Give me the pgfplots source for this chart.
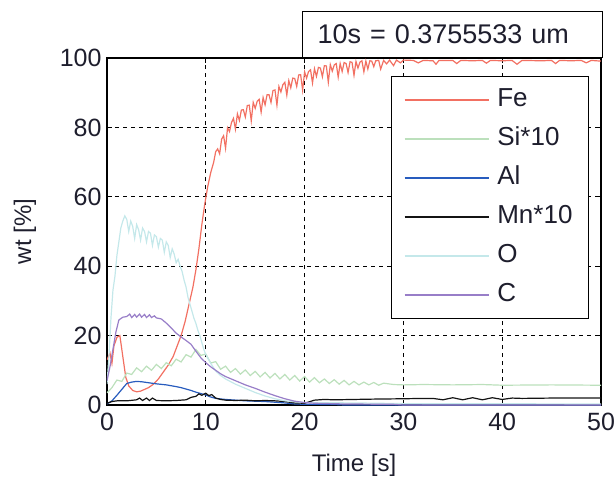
\documentclass[border=0pt]{standalone}
\usepackage{fontspec}
\setmainfont{Liberation Sans}
\usepackage{pgfplots}
\pgfplotsset{compat=1.18}
\definecolor{cFe}{RGB}{242,112,98}
\definecolor{cSi}{RGB}{188,224,188}
\definecolor{cAl}{RGB}{40,92,190}
\definecolor{cMn}{RGB}{20,20,20}
\definecolor{cO}{RGB}{196,232,234}
\definecolor{cC}{RGB}{152,126,200}
\definecolor{txt}{RGB}{30,30,45}
\begin{document}
\begin{tikzpicture}
\begin{axis}[
  scale only axis, width=494pt, height=347pt,
  xmin=0, xmax=50, ymin=0, ymax=100,
  xtick={0,10,...,50}, ytick={0,20,...,100},
  grid=major,
  major grid style={black, dash pattern=on 4pt off 4pt, line width=0.9pt},
  tick align=inside, major tick length=5pt,
  axis line style={line width=1.2pt, black},
  tick style={line width=1pt, black},
  /pgf/number format/assume math mode=true,
  ticklabel style={font=\fontsize{25}{30}\selectfont, text=txt},
  xticklabel style={yshift=-5pt},
  yticklabel style={xshift=-2pt},
  label style={font=\fontsize{24}{30}\selectfont, text=txt},
  xlabel={Time [s]}, ylabel={wt [\%]},
  xlabel style={at={(axis description cs:0.5,-0.173)}, anchor=center},
  ylabel style={at={(axis description cs:-0.166,0.5)}, anchor=center},
  legend style={at={(rel axis cs:0.9757,0.948)}, anchor=north east,
    draw=black, line width=1pt, fill=white,
    font=\fontsize{26}{30}\selectfont, text=txt,
    inner xsep=13pt, inner ysep=8pt, row sep=8pt, column sep=5pt,
    nodes={inner sep=3pt, text height=19pt, text depth=6pt}},
  legend cell align=left,
  legend image code/.code={\draw[#1] (0pt,0pt) -- (84pt,0pt);},
]
\addplot[cFe, line width=1.2pt] coordinates {
(0,13) (0.3,15) (0.5,12) (0.7,17) (1.0,19.5) (1.3,20) (1.6,14) (1.9,8) (2.2,5.5) (2.6,4.2) (3.0,3.8) (3.4,4) (3.8,4.5) (4.2,5) (4.7,6) (5.2,7.5) (5.7,9.5) (6.2,11.5) (6.7,14) (7.1,17) (7.5,20) (7.9,24) (8.3,29) (8.7,34) (9.0,39) (9.3,45) (9.6,52) (9.9,58) (10.2,63) (10.5,67) (10.8,70)
(11.0,73) (11.2,73.8) (11.4,72.4) (11.6,76.6) (11.8,77.6) (12.0,74) (12.2,79.9) (12.4,78.8) (12.6,81.4) (12.8,82.6) (13.0,79.5) (13.2,83.9) (13.4,82)
(13.6,85) (13.8,85.1) (14.0,83) (14.2,86.3) (14.4,86.4) (14.6,81.9) (14.8,87.2) (15.0,85.5) (15.2,87.5) (15.4,88.1) (15.6,84.4) (15.8,88.6) (16.0,86.5)
(16.2,89.4) (16.4,89.4) (16.6,87.2) (16.8,90.6) (17.0,90.8) (17.2,86.4) (17.4,91.8) (17.6,90.2) (17.8,92.3) (18.0,93) (18.2,89.3) (18.4,93.5) (18.6,91.4)
(18.8,94.2) (19.0,94.1) (19.2,91.8) (19.4,95.1) (19.6,95.2) (19.8,90.7) (20.0,96) (20.2,94.2) (20.4,96.1) (20.6,96.6) (20.8,92.8) (21.0,96.9) (21.2,94.7)
(21.4,97.3) (21.6,97.1) (21.8,94.6) (22.0,97.8) (22.2,97.7) (22.4,93) (22.6,98.1) (22.8,96.2) (23.0,98) (23.2,98.4) (23.4,94.5) (23.6,98.4) (23.8,96.1)
(24.0,98.7) (24.2,98.4) (24.4,95.8) (24.6,98.9) (24.8,98.75) (25.0,95) (25.2,99) (25.4,97.1) (25.6,98.8) (25.8,99.2) (26.0,96) (26.2,99.1) (26.4,96.8)
(26.6,99.2) (26.8,99.1) (27.0,97.5) (27.2,99.2) (27.5,99.3) (27.7,96.8) (28,99.3) (28.3,98.3) (28.6,99.4) (29,97.8) (29.3,99.4) (29.7,98.6) (30,99.4)
(31,99.3) (31.5,98.6) (32,99.3) (33,99.2) (33.3,98.2) (33.6,99.3) (35,99.3) (35.4,98.4) (35.8,99.3) (37,99.2) (38,99.3) (38.4,98.5) (38.8,99.3)
(40,99.2) (41,99.3) (41.5,98.2) (42,99.3) (44,99.2) (45,99.3) (45.4,98.4) (45.8,99.3) (47,99.2) (48,99.3) (48.5,98.6) (49,99.3) (50,99.1)
};
\addlegendentry{Fe}
\addplot[cSi, line width=1.2pt] coordinates {
(0,3.5) (0.5,5) (1,7.2) (1.5,6.8) (2,9.2) (2.5,8.8) (3,10.7) (3.5,9.6) (4,11.2) (4.5,10) (5,11.7) (5.5,10.5)
(6,12.2) (6.5,11.3) (7,13.2) (7.5,12.4) (8,14.5) (8.5,13.8) (9,16) (9.5,14.3) (10,14.7) (10.5,12.1)
(11,12.5) (11.5,10.3) (12,11.2) (12.5,9.4) (13,10.5) (13.5,8.9) (14,10.1) (14.5,8.5) (15,9.7) (15.5,8.1)
(16,9.4) (16.5,7.8) (17,9.1) (17.5,7.5) (18,8.8) (18.5,7.2) (19,8.5) (19.5,6.9) (20,8.2) (20.5,6.6)
(21,7.9) (21.5,6.4) (22,7.5) (22.5,6.2) (23,7.3) (23.5,6) (24,7.1) (24.5,5.8) (25,6.8) (25.5,5.8)
(26,6.6) (26.5,5.8) (27,6.5) (27.5,5.7) (28,6.3) (29,5.9) (30,5.8) (32,5.9) (35,5.8) (38,5.9) (40,5.7) (45,5.8) (50,5.7)
};
\addlegendentry{Si*10}
\addplot[cAl, line width=1.2pt] coordinates {
(0,0.3) (0.5,1.2) (1,2.8) (1.5,4.5) (2,6.2) (2.5,6.6) (3,6.8) (3.5,6.7) (4,6.5) (4.5,6.3) (5,6.1) (6,5.8)
(7,5.3) (7.5,5) (8,4.6) (8.5,4.2) (9,3.7) (9.5,3.3) (10,2.9) (10.5,2.3) (11,1.9) (12,1.6) (13,1.4) (14,1.2)
(15,1.1) (16,1.0) (17,0.8) (18,0.6) (19,0.3) (20,0.2) (23,0.15) (24,0) (50,0)
};
\addlegendentry{Al}
\addplot[cMn, line width=1.2pt] coordinates {
(0,0.5) (0.5,1) (1,1.2) (2,1.2) (3,1.5) (3.3,2) (3.6,1.3) (4,2) (4.3,1.3) (4.6,2) (5,1.3) (6,1.2) (7,1.3)
(8,1.5) (8.5,2.2) (9,2.5) (9.3,3.2) (9.6,2.8) (10,3.4) (10.3,2.7) (10.6,3) (11,2) (11.5,1.6) (12,1.4)
(13,1.3) (14,1.4) (15,1.2) (16,1.3) (17,1.2) (18,1) (19,0.6) (20,0.5) (21,1.4) (22,1.6) (23,1.5) (25,1.6)
(27,1.7) (30,1.8) (32,1.9) (33,1.9) (34,1.5) (35,2.1) (36,1.5) (37,2.1) (38,1.5) (39,2.1) (40,1.6) (41,2)
(42,1.9) (45,2) (50,2)
};
\addlegendentry{Mn*10}
\addplot[cO, line width=1.2pt] coordinates {
(0,6) (0.2,14) (0.4,25) (0.6,33) (0.8,37) (1.0,43) (1.2,47) (1.4,51) (1.6,53) (1.8,54.5) (2.0,53.5)
(2.2,50) (2.4,53) (2.6,51.5) (2.8,48) (3.0,52) (3.2,50.5) (3.4,47.5) (3.6,51) (3.8,50) (4.0,47) (4.2,50)
(4.4,49.5) (4.6,46) (4.8,49) (5.0,48.5) (5.2,45.5) (5.4,48) (5.6,47.5) (5.8,44) (6.0,47) (6.2,46) (6.4,42.5)
(6.6,45) (6.8,43.5) (7.0,41) (7.2,42) (7.4,40) (7.6,38.5) (7.8,36) (8.0,34) (8.2,31) (8.4,29) (8.6,27)
(8.8,25) (9.0,23.5) (9.2,21.5) (9.4,20) (9.6,18) (9.8,16) (10,14.5) (10.5,12) (11,9.8) (11.5,8.5) (12,7.5)
(13,6) (14,4.8) (15,3.6) (16,2.6) (17,1.8) (18,1.2) (19,0.9) (20,0.7) (25,0.6) (30,0.4) (50,0.3)
};
\addlegendentry{O}
\addplot[cC, line width=1.2pt] coordinates {
(0,7) (0.3,11) (0.6,16) (0.9,21) (1.2,24.5) (1.6,25.3) (2,25.5) (2.3,26.2) (2.5,25.2) (2.8,26.1) (3,25.3)
(3.3,26.2) (3.5,25.3) (3.8,26.1) (4,25.2) (4.3,26) (4.5,25.2) (4.8,25.7) (5,25.1) (5.5,24.8) (6,23.6)
(6.5,22.2) (7,20.7) (7.5,19.6) (8,18.6) (8.5,17.5) (9,15.5) (9.5,13.6) (10,12.2) (10.5,11) (11,10)
(11.5,9) (12,8.2) (13,7) (14,5.8) (15,4.8) (16,3.7) (17,2.7) (18,1.8) (19,1.1) (20,0.7) (21,0.5) (24,0.3)
(29,0.2) (30,0) (50,0)
};
\addlegendentry{C}
\coordinate (SW) at (rel axis cs:0,0);
\coordinate (NE) at (rel axis cs:1,1);
\end{axis}
\node[draw=black, line width=1pt, anchor=south east, minimum width=300pt, minimum height=46pt,
  text width=270pt, align=left, font=\fontsize{27}{32}\selectfont, text=txt, fill=white]
  at ([xshift=2pt]NE) {10s = 0.3755533 um};
\pgfresetboundingbox
\path[use as bounding box] ([shift={(-107pt,-77pt)}]SW) rectangle ([shift={(13pt,58pt)}]NE);
\end{tikzpicture}
\end{document}
